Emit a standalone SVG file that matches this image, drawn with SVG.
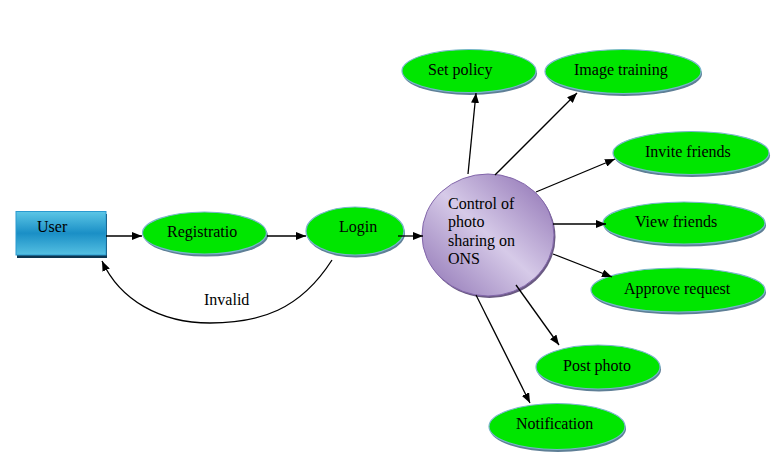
<svg xmlns="http://www.w3.org/2000/svg" width="779" height="465" viewBox="0 0 779 465">
<defs>
<style>
.t{font-family:"Liberation Serif","Times New Roman",serif;font-size:16px;fill:#000}
.e{fill:#00e600;stroke:#7ab4cc;stroke-width:1.2}
.sh{fill:#5f7f96}
.c{fill:none;stroke:#000;stroke-width:1.3}
</style>
<linearGradient id="gUser" x1="0" y1="0" x2="0" y2="1">
<stop offset="0" stop-color="#5cc6e6"/>
<stop offset="0.5" stop-color="#1a8fc6"/>
<stop offset="1" stop-color="#55c0e2"/>
</linearGradient>
<linearGradient id="gCirc" x1="0" y1="1" x2="1" y2="0">
<stop offset="0" stop-color="#8c70b2"/>
<stop offset="0.5" stop-color="#d6cae8"/>
<stop offset="1" stop-color="#8a6cb0"/>
</linearGradient>
<marker id="ah" markerWidth="10" markerHeight="8" refX="10" refY="4" orient="auto" markerUnits="userSpaceOnUse">
<path d="M0,0 L10,4 L0,8 Z" fill="#000"/>
</marker>
</defs>
<rect width="779" height="465" fill="#fff"/>

<g id="user">
<rect x="17" y="214" width="90" height="44" fill="#0d3550"/>
<rect x="16" y="211.5" width="90" height="43.5" fill="url(#gUser)" stroke="#2a9ad0" stroke-width="1"/>
<text class="t" x="37" y="232">User</text>
</g>

<g id="registration">
<ellipse class="sh" cx="206" cy="235.5" rx="62" ry="21"/>
<ellipse class="e" cx="204.5" cy="233" rx="62" ry="21"/>
<text class="t" x="167" y="237">Registratio</text>
</g>

<g id="login">
<ellipse class="sh" cx="356" cy="233.5" rx="49" ry="24"/>
<ellipse class="e" cx="355" cy="231" rx="49" ry="24"/>
<text class="t" x="339" y="232">Login</text>
</g>

<g id="control">
<ellipse cx="489.5" cy="237" rx="66" ry="61" fill="#6a5a82"/>
<ellipse cx="488" cy="235" rx="66" ry="61" fill="url(#gCirc)" stroke="#8266aa" stroke-width="1"/>
<text class="t" x="448" y="209">Control of</text>
<text class="t" x="448" y="227">photo</text>
<text class="t" x="448" y="246">sharing on</text>
<text class="t" x="448" y="264">ONS</text>
</g>

<g id="setpolicy">
<ellipse class="sh" cx="470" cy="73.5" rx="67" ry="21.5"/>
<ellipse class="e" cx="469" cy="71" rx="67" ry="21.5"/>
<text class="t" x="428" y="75">Set policy</text>
</g>

<g id="imagetraining">
<ellipse class="sh" cx="624" cy="74" rx="78" ry="22"/>
<ellipse class="e" cx="623" cy="71.5" rx="78" ry="22"/>
<text class="t" x="574" y="75">Image training</text>
</g>

<g id="invitefriends">
<ellipse class="sh" cx="692" cy="155.5" rx="78" ry="21.5"/>
<ellipse class="e" cx="691" cy="153" rx="78" ry="21.5"/>
<text class="t" x="645" y="157">Invite friends</text>
</g>

<g id="viewfriends">
<ellipse class="sh" cx="685" cy="225.5" rx="81" ry="21"/>
<ellipse class="e" cx="684" cy="223" rx="81" ry="21"/>
<text class="t" x="635" y="227">View friends</text>
</g>

<g id="approverequest">
<ellipse class="sh" cx="679" cy="292.5" rx="87" ry="22"/>
<ellipse class="e" cx="678" cy="290" rx="87" ry="22"/>
<text class="t" x="624" y="294">Approve request</text>
</g>

<g id="postphoto">
<ellipse class="sh" cx="599" cy="369.5" rx="62" ry="22"/>
<ellipse class="e" cx="598" cy="367" rx="62" ry="22"/>
<text class="t" x="563" y="371">Post photo</text>
</g>

<g id="notification">
<ellipse class="sh" cx="558" cy="429" rx="68" ry="23"/>
<ellipse class="e" cx="557" cy="426.5" rx="68" ry="23"/>
<text class="t" x="516" y="429">Notification</text>
</g>

<g id="connectors">
<line class="c" x1="106" y1="236" x2="142" y2="236" marker-end="url(#ah)"/>
<line class="c" x1="267" y1="236" x2="306" y2="236" marker-end="url(#ah)"/>
<line class="c" x1="398" y1="236" x2="423" y2="236" marker-end="url(#ah)"/>
<path class="c" d="M332,260 C300,310 260,323 210,323 C160,323 120,300 102,261" marker-end="url(#ah)"/>
<text class="t" x="204" y="305">Invalid</text>
<line class="c" x1="468" y1="174" x2="476" y2="93" marker-end="url(#ah)"/>
<line class="c" x1="495" y1="175" x2="577" y2="93" marker-end="url(#ah)"/>
<line class="c" x1="536" y1="192" x2="615" y2="159" marker-end="url(#ah)"/>
<line class="c" x1="553" y1="224" x2="606" y2="224" marker-end="url(#ah)"/>
<line class="c" x1="553" y1="254" x2="612" y2="277" marker-end="url(#ah)"/>
<line class="c" x1="516" y1="285" x2="559" y2="345" marker-end="url(#ah)"/>
<line class="c" x1="476" y1="295" x2="530" y2="403" marker-end="url(#ah)"/>
</g>
</svg>
